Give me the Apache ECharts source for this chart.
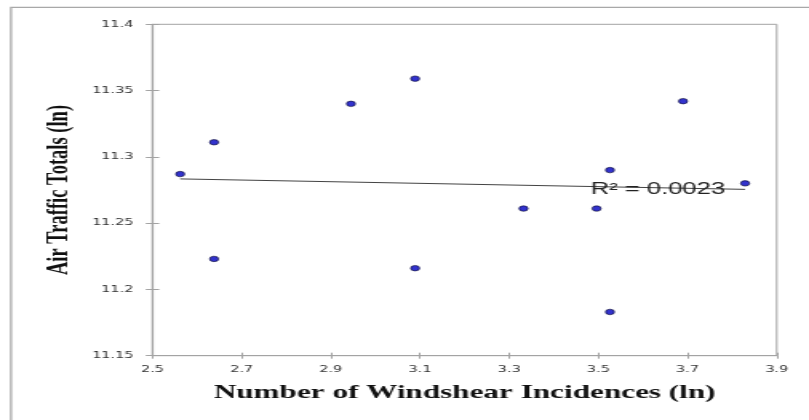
<!DOCTYPE html>
<html>
<head>
<meta charset="utf-8">
<script src="https://cdn.jsdelivr.net/npm/echarts@6/dist/echarts.min.js"></script>
<style>
  html, body { margin: 0; padding: 0; background: #fff; overflow: hidden; }
  /* chart is laid out narrow and stretched horizontally */
  #chart { width: 506px; height: 420px; transform: scaleX(1.5988); transform-origin: 0 0; }
</style>
</head>
<body>
<div id="chart"></div>
<script>
// Tick values
const xTicks = [2.5, 2.7, 2.9, 3.1, 3.3, 3.5, 3.7, 3.9];
const yTicks = [11.15, 11.2, 11.25, 11.3, 11.35, 11.4];

// Observations (natural logs)
const windshearLn = [2.562, 2.638, 2.638, 2.945, 3.089, 3.089, 3.332, 3.496, 3.526, 3.526, 3.690, 3.829];
const trafficLn   = [11.287, 11.311, 11.223, 11.340, 11.359, 11.216, 11.261, 11.261, 11.290, 11.183, 11.342, 11.280];

const rSquaredText = 'R\u00b2 = 0.0023';

// Least-squares trend line over the observed x range
const n = windshearLn.length;
const mx = windshearLn.reduce((a, b) => a + b, 0) / n;
const my = trafficLn.reduce((a, b) => a + b, 0) / n;
let sxy = 0, sxx = 0;
for (let i = 0; i < n; i++) {
  sxy += (windshearLn[i] - mx) * (trafficLn[i] - my);
  sxx += (windshearLn[i] - mx) * (windshearLn[i] - mx);
}
const slope = sxy / sxx;
const intercept = my - slope * mx;
const xLo = Math.min(...windshearLn), xHi = Math.max(...windshearLn);
const trend = [[xLo, intercept + slope * xLo], [xHi, intercept + slope * xHi]];

const points = windshearLn.map((x, i) => [x, trafficLn[i]]);

const axisGray = '#a3a3a3';
const labelColor = '#333';
const fmt = v => String(parseFloat(Number(v).toFixed(2)));

const chart = echarts.init(document.getElementById('chart'));
chart.setOption({
  animation: false,
  backgroundColor: '#fff',
  grid: {
    left: 95.4, right: 20.2, top: 24.3, bottom: 64.3,
    show: true, borderColor: axisGray, borderWidth: 1, backgroundColor: 'transparent'
  },
  xAxis: [{
    type: 'value', min: xTicks[0], max: xTicks[xTicks.length - 1],
    name: 'Number of Windshear Incidences (ln)', nameLocation: 'middle', nameGap: 27,
    nameTextStyle: { fontFamily: 'Liberation Serif', fontWeight: 'bold', fontSize: 19.5, color: '#111' },
    axisLine: { show: true, lineStyle: { color: axisGray, width: 1.2 } },
    axisTick: { show: true, length: 3, customValues: xTicks, lineStyle: { color: axisGray } },
    axisLabel: { customValues: xTicks, formatter: fmt, margin: 9, fontFamily: 'DejaVu Sans', fontSize: 9, color: labelColor },
    splitLine: { show: false }
  }, {
    type: 'value', min: xTicks[0], max: xTicks[xTicks.length - 1], position: 'bottom',
    axisLine: { show: false },
    axisTick: { show: true, inside: true, length: 3, customValues: xTicks, lineStyle: { color: axisGray } },
    axisLabel: { show: false }, splitLine: { show: false }
  }],
  yAxis: [{
    type: 'value', min: yTicks[0], max: yTicks[yTicks.length - 1],
    name: 'Air Traffic Totals (ln)', nameLocation: 'middle', nameGap: 36.5,
    nameTextStyle: { fontFamily: 'Liberation Serif', fontWeight: 'bold', fontSize: 18.5, color: '#111' },
    axisLine: { show: true, lineStyle: { color: axisGray, width: 1.2 } },
    axisTick: { show: true, length: 4.2, customValues: yTicks, lineStyle: { color: axisGray } },
    axisLabel: { customValues: yTicks, formatter: fmt, margin: 12, fontFamily: 'DejaVu Sans', fontSize: 9, color: labelColor },
    splitLine: { show: false }
  }, {
    type: 'value', min: yTicks[0], max: yTicks[yTicks.length - 1], position: 'left',
    axisLine: { show: false },
    axisTick: { show: true, inside: true, length: 4.2, customValues: yTicks, lineStyle: { color: axisGray } },
    axisLabel: { show: false }, splitLine: { show: false }
  }],
  graphic: [{
    type: 'rect', silent: true, z: -10,
    shape: { x: 6.9, y: 7.3, width: 700, height: 600 },
    style: { fill: 'none', stroke: '#a8a8a8', lineWidth: 1.3 }
  }, {
    type: 'text', z: 50, x: 369.5, y: 189.5,
    style: { text: rSquaredText, font: '16px "Liberation Sans"', fill: '#222', textVerticalAlign: 'middle' }
  }],
  series: [{
    type: 'line', data: trend, xAxisIndex: 0, yAxisIndex: 0,
    showSymbol: false, symbol: 'none',
    lineStyle: { color: '#444', width: 1 }, z: 2
  }, {
    type: 'scatter', data: points, xAxisIndex: 0, yAxisIndex: 0,
    symbol: 'circle', symbolSize: 5.5,
    itemStyle: { color: '#0000c0', borderColor: '#000022', borderWidth: 0.7 }, z: 3
  }]
});
</script>
</body>
</html>
